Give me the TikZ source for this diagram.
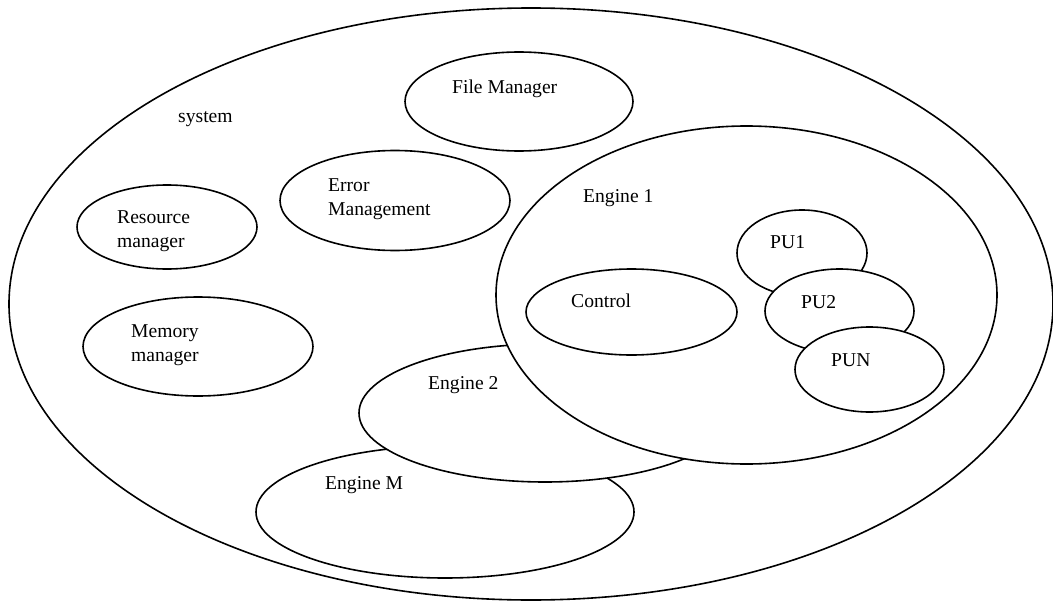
\documentclass[tikz,border=0pt]{standalone}
\usepackage{fontspec}
\setmainfont{Liberation Serif}
\usetikzlibrary{shapes.geometric}
\begin{document}
\begin{tikzpicture}[x=1pt,y=-1pt,
  oval/.style={ellipse,draw=black,line width=1.6pt,inner sep=0pt,outer sep=0pt,fill=white},
  lbl/.style={anchor=base west,inner sep=0pt,font=\fontsize{19.6}{23.5}\selectfont,align=left}]
\useasboundingbox (0,0) rectangle (1053,602);
\fill[white] (0,0) rectangle (1053,602);
% ellipses: center, rx, ry
\node[oval,minimum width=1044pt,minimum height=592pt] (sys) at (531,304) {};
\node[oval,minimum width=228pt,minimum height=99pt] (file) at (519,101.5) {};
\node[oval,minimum width=230pt,minimum height=100pt] (err) at (395,200.5) {};
\node[oval,minimum width=180pt,minimum height=84pt] (res) at (167,227) {};
\node[oval,minimum width=230pt,minimum height=99pt] (mem) at (198,346.5) {};
\node[oval,minimum width=378pt,minimum height=132pt] (engM) at (445,512) {};
\node[oval,minimum width=372pt,minimum height=138pt] (eng2) at (545,413) {};
\node[oval,minimum width=501pt,minimum height=338pt] (eng1) at (746.5,295) {};
\node[oval,minimum width=211pt,minimum height=86pt] (ctrl) at (631.5,312) {};
\node[oval,minimum width=130pt,minimum height=86pt] (pu1) at (802,253) {};
\node[oval,minimum width=149pt,minimum height=84pt] (pu2) at (839.5,311) {};
\node[oval,minimum width=149pt,minimum height=85pt] (pun) at (869.5,369.5) {};
% labels
\node[lbl] (tsys) at (178,122) {system};
\node[lbl] (tfile) at (452,93) {File Manager};
\node[lbl] (tres) at (117,247) {Resource\\manager};
\node[lbl] (terr) at (328,215) {Error\\Management};
\node[lbl] (tmem) at (131,361) {Memory\\manager};
\node[lbl] (teng1) at (583,202) {Engine 1};
\node[lbl] (tctrl) at (571,307) {Control};
\node[lbl] (teng2) at (428,389) {Engine 2};
\node[lbl] (tengM) at (325,489) {Engine M};
\node[lbl] (tpu1) at (770,248) {PU1};
\node[lbl] (tpu2) at (801,308) {PU2};
\node[lbl] (tpun) at (831,366) {PUN};
\end{tikzpicture}
\end{document}
